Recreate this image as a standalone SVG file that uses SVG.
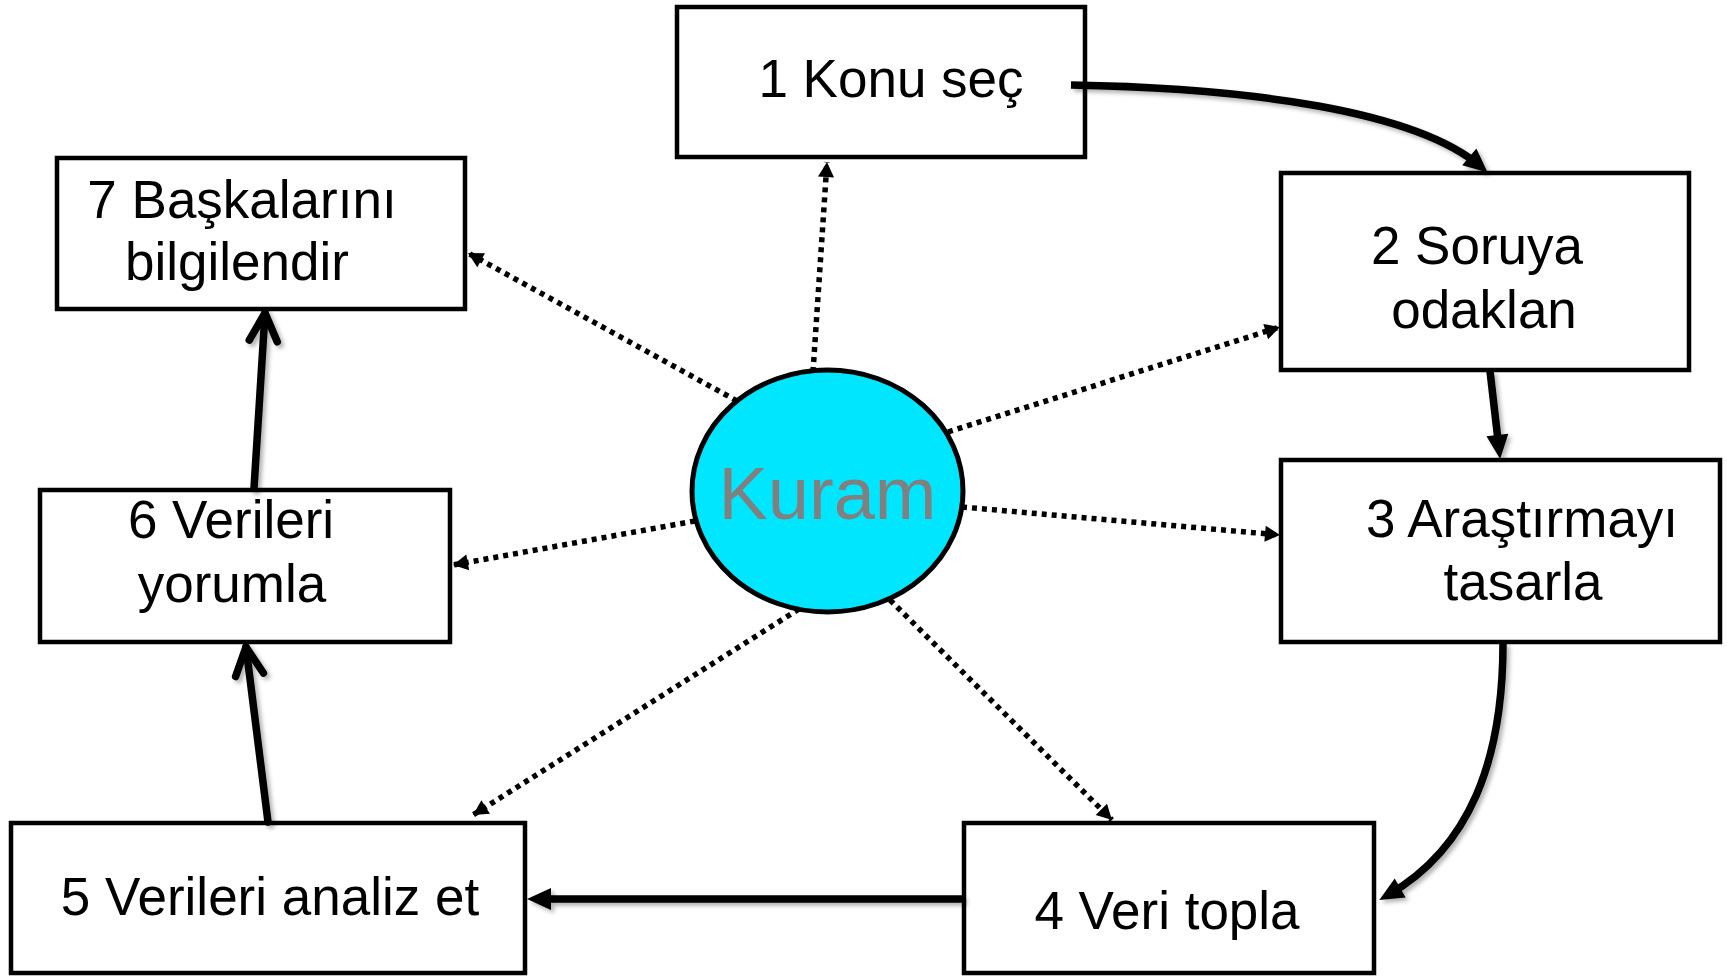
<svg xmlns="http://www.w3.org/2000/svg" width="1727" height="977" viewBox="0 0 1727 977">
<style>
.box{fill:#fff;stroke:#000;stroke-width:4.5}
.lbl{font-family:"Liberation Sans",Arial,sans-serif;font-size:53px;fill:#000;text-anchor:middle}
.dot{fill:none;stroke:#000;stroke-width:5.5;stroke-dasharray:5 5}
.thick{fill:none;stroke:#000;stroke-width:7.5}
.kuram{font-family:"Liberation Sans",Arial,sans-serif;font-size:74px;fill:#808080;text-anchor:middle}
</style>
<defs>
<marker id="dhead" markerUnits="userSpaceOnUse" markerWidth="16" markerHeight="16" refX="15" refY="8" orient="auto" overflow="visible">
<path d="M0,0 L15,8 L0,16 Z" fill="#000"/>
</marker>
<marker id="head" markerUnits="userSpaceOnUse" markerWidth="24" markerHeight="22" refX="14" refY="11" orient="auto" overflow="visible">
<path d="M0,0 L24,11 L0,22 Z" fill="#000"/>
</marker>
<marker id="chev" markerUnits="userSpaceOnUse" markerWidth="40" markerHeight="40" refX="32" refY="18" orient="auto" overflow="visible">
<path d="M4,4 L32,18 L4,32" fill="none" stroke="#000" stroke-width="7.5" stroke-linecap="round" stroke-linejoin="round"/>
</marker>
<filter id="shadow" filterUnits="userSpaceOnUse" x="0" y="0" width="1727" height="977">
<feDropShadow dx="3" dy="3" stdDeviation="2" flood-color="#000" flood-opacity="0.3"/>
</filter>
</defs>
<rect width="1727" height="977" fill="#fff"/>

<g id="node1"><rect class="box" x="677" y="7" width="408" height="150"/><text class="lbl" x="891" y="97">1 Konu seç</text></g>
<g id="node2"><rect class="box" x="1281" y="173" width="408" height="197"/><text class="lbl" x="1477" y="264">2 Soruya</text><text class="lbl" x="1484" y="328">odaklan</text></g>
<g id="node3"><rect class="box" x="1281" y="460" width="439" height="182"/><text class="lbl" x="1522" y="537">3 Araştırmayı</text><text class="lbl" x="1523" y="600">tasarla</text></g>
<g id="node4"><rect class="box" x="964" y="823" width="410" height="150"/><text class="lbl" x="1167" y="929">4 Veri topla</text></g>
<g id="node5"><rect class="box" x="11" y="823" width="514" height="150"/><text class="lbl" x="270" y="915">5 Verileri analiz et</text></g>
<g id="node6"><rect class="box" x="40" y="490" width="410" height="152"/><text class="lbl" x="231" y="538">6 Verileri</text><text class="lbl" x="232" y="602">yorumla</text></g>
<g id="node7"><rect class="box" x="57" y="158" width="408" height="151"/><text class="lbl" x="242" y="218">7 Başkalarını</text><text class="lbl" x="237" y="280">bilgilendir</text></g>

<g id="connectors">
<g id="theory-links">
<path class="dot" d="M813,372 L827,162" marker-end="url(#dhead)"/>
<path class="dot" d="M737,401 L468,253" marker-end="url(#dhead)"/>
<path class="dot" d="M948,432 L1280,327" marker-end="url(#dhead)"/>
<path class="dot" d="M962,507 L1280,535" marker-end="url(#dhead)"/>
<path class="dot" d="M695,521 L453,565" marker-end="url(#dhead)"/>
<path class="dot" d="M799,609 L473,815" marker-end="url(#dhead)"/>
<path class="dot" d="M890,600 L1112,820" marker-end="url(#dhead)"/>
</g>
<g id="cycle" filter="url(#shadow)">
<path class="thick" d="M1071,85 C1250,88 1415,111 1480,166" marker-end="url(#head)"/>
<path class="thick" d="M1490,371 L1499,449" marker-end="url(#head)"/>
<path class="thick" d="M1503,643 C1503,760 1470,848 1388,895" marker-end="url(#head)"/>
<path class="thick" d="M964,899 L537,899" marker-end="url(#head)"/>
<path class="thick" d="M268,822 L246,647" stroke-linecap="round" marker-end="url(#chev)"/>
<path class="thick" d="M254,488 L265,313" stroke-linecap="round" marker-end="url(#chev)"/>
</g>
</g>

<g id="kuram">
<ellipse cx="827.5" cy="491" rx="135.5" ry="121" fill="#00E6FF" stroke="#000" stroke-width="5"/>
<text class="kuram" x="827.5" y="519">Kuram</text>
</g>
</svg>
